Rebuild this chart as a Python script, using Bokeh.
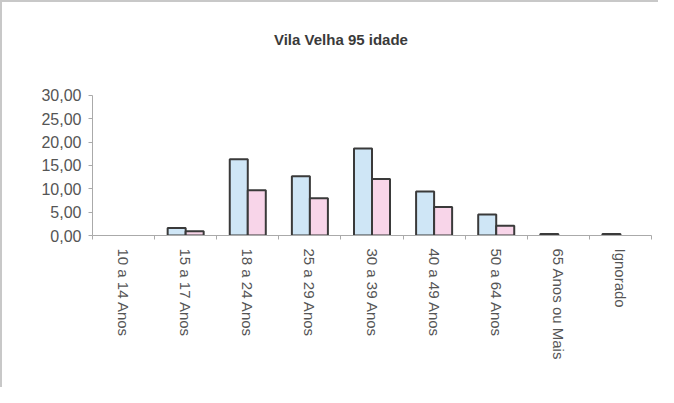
import math
from bokeh.plotting import figure
from bokeh.models import FixedTicker, Range1d, ColumnDataSource, CustomJSTickFormatter, Label
from bokeh.embed import file_html
from bokeh.resources import INLINE

titulo = "Vila Velha 95 idade"
categories = ["10 a 14 Anos", "15 a 17 Anos", "18 a 24 Anos", "25 a 29 Anos",
              "30 a 39 Anos", "40 a 49 Anos", "50 a 64 Anos", "65 Anos ou Mais", "Ignorado"]
serie_azul = [0.0, 1.6, 16.3, 12.7, 18.6, 9.4, 4.5, 0.3, 0.3]
serie_rosa = [0.0, 0.9, 9.7, 8.0, 12.1, 6.1, 2.1, 0.0, 0.0]
y_ticks = [0, 5, 10, 15, 20, 25, 30]

n = len(categories)
centers = [i + 0.5 for i in range(n)]
src = ColumnDataSource(dict(
    xa=[c - 0.145 for c in centers],
    xr=[c + 0.145 for c in centers],
    a=serie_azul, r=serie_rosa,
    la=[0.0 if v == 0 else 1.0 for v in serie_azul],
    lr=[0.0 if v == 0 else 1.0 for v in serie_rosa],
))

p = figure(output_backend="svg", toolbar_location=None,
           width=658, height=387,
           x_range=Range1d(0, n), y_range=Range1d(0, 45.6))
p.min_border_left = 90
p.min_border_right = 9
p.min_border_top = 20
p.min_border_bottom = 154

p.add_layout(Label(x=4.0, y=42.0, text=titulo,
                   text_align="center", text_baseline="middle",
                   text_font="Liberation Sans", text_font_size="15px",
                   text_font_style="bold", text_color="#3a3a3a"))

p.vbar(x="xa", top="a", bottom=0, width=0.29, source=src,
       fill_color="#cfe6f6", line_color="#3a3a3a", line_width=2, line_alpha="la")
p.vbar(x="xr", top="r", bottom=0, width=0.29, source=src,
       fill_color="#f8d5e9", line_color="#3a3a3a", line_width=2, line_alpha="lr")

p.xgrid.visible = False
p.ygrid.visible = False
p.outline_line_color = None
p.background_fill_color = "white"
p.border_fill_color = "white"

# y axis
p.yaxis.ticker = FixedTicker(ticks=y_ticks, minor_ticks=[])
p.yaxis.bounds = (0, 30)
p.yaxis.formatter = CustomJSTickFormatter(code="return tick.toFixed(2).replace('.', ',');")
p.yaxis.axis_line_color = "#aaaaaa"
p.yaxis.major_tick_line_color = "#aaaaaa"
p.yaxis.major_tick_out = 4
p.yaxis.major_tick_in = 0
p.yaxis.major_label_text_font = "Liberation Sans"
p.yaxis.major_label_text_font_size = "16px"
p.yaxis.major_label_text_color = "#555555"
p.yaxis.major_label_standoff = 7

# x axis
p.xaxis.ticker = FixedTicker(ticks=centers, minor_ticks=list(range(n + 1)))
p.xaxis.major_label_overrides = {c: lab for c, lab in zip(centers, categories)}
p.xaxis.major_label_orientation = -math.pi / 2
p.xaxis.axis_line_color = "#aaaaaa"
p.xaxis.major_tick_line_color = None
p.xaxis.minor_tick_line_color = "#aaaaaa"
p.xaxis.minor_tick_out = 4
p.xaxis.minor_tick_in = 0
p.xaxis.major_label_text_font = "Liberation Sans"
p.xaxis.major_label_text_font_size = "15px"
p.xaxis.major_label_text_color = "#555555"
p.xaxis.major_label_standoff = 7

p.styles = {"border-top": "2px solid #c8c8c8", "border-left": "2px solid #c8c8c8"}

open("out.html", "w").write(file_html(p, INLINE))
